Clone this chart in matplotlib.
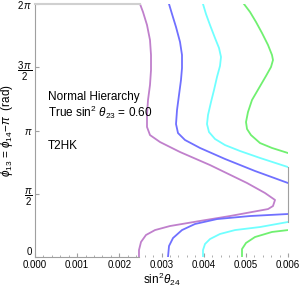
import numpy as np
import matplotlib
matplotlib.use("Agg")
import matplotlib.pyplot as plt
from matplotlib.ticker import MultipleLocator, FormatStrFormatter

plt.rcParams['font.family'] = ['Liberation Sans', 'DejaVu Sans']
plt.rcParams['mathtext.fontset'] = 'custom'
plt.rcParams['mathtext.rm'] = 'Liberation Sans'
plt.rcParams['mathtext.it'] = 'Liberation Sans:italic'

# contour curves: x = sin^2 theta24, y = phi13 in units of pi
purple_x = [0.002490, 0.002561, 0.002656, 0.002727, 0.002751, 0.002751, 0.002727, 0.002680, 0.002656,
            0.002656, 0.002727, 0.002964, 0.003439, 0.004150, 0.005028, 0.005454, 0.005692, 0.005644,
            0.005526, 0.004624, 0.003913, 0.003202, 0.002846, 0.002632, 0.002514, 0.002466, 0.002466]
purple_y = [2.0, 1.937, 1.834, 1.715, 1.597, 1.478, 1.360, 1.241, 1.123,
            1.028, 0.964, 0.909, 0.830, 0.727, 0.585, 0.506, 0.451, 0.403,
            0.379, 0.324, 0.285, 0.245, 0.213, 0.174, 0.119, 0.055, 0.0]

blue_up_x = [0.003178, 0.003249, 0.003344, 0.003439, 0.003486, 0.003486, 0.003462, 0.003415, 0.003368,
             0.003344, 0.003391, 0.003557, 0.003913, 0.004506, 0.005217, 0.006]
blue_up_y = [2.0, 1.921, 1.818, 1.700, 1.597, 1.494, 1.399, 1.281, 1.162,
             1.051, 0.980, 0.925, 0.862, 0.775, 0.680, 0.585]
blue_lo_x = [0.006, 0.005099, 0.004316, 0.003794, 0.003486, 0.003273, 0.003178, 0.003154]
blue_lo_y = [0.340, 0.324, 0.300, 0.261, 0.213, 0.150, 0.087, 0.0]

cyan_up_x = [0.003984, 0.004055, 0.004150, 0.004269, 0.004364, 0.004411, 0.004387, 0.004316, 0.004245,
             0.004174, 0.004103, 0.004079, 0.004126, 0.004269, 0.004506, 0.004862, 0.005336, 0.006]
cyan_up_y = [2.0, 1.921, 1.834, 1.731, 1.652, 1.581, 1.510, 1.423, 1.320,
             1.225, 1.123, 1.051, 0.988, 0.933, 0.885, 0.838, 0.783, 0.711]
cyan_lo_x = [0.006, 0.005336, 0.004743, 0.004387, 0.004150, 0.004032, 0.003984, 0.003984]
cyan_lo_y = [0.277, 0.237, 0.213, 0.182, 0.142, 0.103, 0.055, 0.0]

green_up_x = [0.004956, 0.005099, 0.005241, 0.005383, 0.005526, 0.005620, 0.005644, 0.005597, 0.005478,
              0.005312, 0.005146, 0.005051, 0.005004, 0.005028, 0.005122, 0.005336, 0.005620, 0.006]
green_up_y = [2.0, 1.937, 1.858, 1.771, 1.676, 1.597, 1.557, 1.502, 1.431,
              1.336, 1.241, 1.146, 1.067, 1.012, 0.964, 0.901, 0.862, 0.822]
green_lo_x = [0.006, 0.005620, 0.005217, 0.005004, 0.004909, 0.004909]
green_lo_y = [0.213, 0.198, 0.158, 0.111, 0.063, 0.0]

ytick_vals = [0, 0.5, 1, 1.5, 2]
ytick_labels = ['0', r'$\dfrac{\pi}{2}$', r'$\pi$', r'$\dfrac{3\,\pi}{2}$', r'$2\,\pi$']

fig = plt.figure(figsize=(3, 2.88), dpi=100)
ax = fig.add_axes([0.1167, 0.1076, 0.8433, 0.8785])

lw = 1.3
ax.plot(purple_x, np.array(purple_y) * np.pi, color='#c080cc', lw=lw)
ax.plot(blue_up_x, np.array(blue_up_y) * np.pi, color='#7070ff', lw=lw)
ax.plot(blue_lo_x, np.array(blue_lo_y) * np.pi, color='#7070ff', lw=lw)
ax.plot(cyan_up_x, np.array(cyan_up_y) * np.pi, color='#70ffff', lw=lw)
ax.plot(cyan_lo_x, np.array(cyan_lo_y) * np.pi, color='#70ffff', lw=lw)
ax.plot(green_up_x, np.array(green_up_y) * np.pi, color='#70f070', lw=lw)
ax.plot(green_lo_x, np.array(green_lo_y) * np.pi, color='#70f070', lw=lw)

ax.set_xlim(0, 0.006)
ax.set_ylim(0, 2 * np.pi)

# frame pieces that stay visible
ax.spines['left'].set_color('#a0a0a0')
ax.spines['bottom'].set_color('#a0a0a0')
ax.spines['bottom'].set_bounds(0, purple_x[-1])
ax.spines['top'].set_color('#d0d0d0')
ax.spines['top'].set_linewidth(1.5)
ax.spines['top'].set_bounds(0, purple_x[0])
ax.spines['right'].set_color('#a0a0a0')
ax.spines['right'].set_bounds(cyan_lo_y[0] * np.pi, cyan_up_y[-1] * np.pi)

ax.xaxis.set_major_locator(MultipleLocator(0.001))
ax.xaxis.set_minor_locator(MultipleLocator(0.0002))
ax.xaxis.set_major_formatter(FormatStrFormatter('%.3f'))
ax.set_yticks(np.array(ytick_vals) * np.pi)
ax.set_yticklabels(ytick_labels)
ax.tick_params(which='major', direction='in', length=3, color='#a0a0a0', labelsize=7, pad=2)
ax.tick_params(which='minor', direction='in', length=1.5, color='#a0a0a0')
ax.tick_params(axis='y', labelsize=7)
# the y "0" sits just above the x tick labels
ax.get_yticklabels()[0].set_va('bottom')

ax.set_xlabel(r'sin$^2\theta_{24}$', fontsize=8.5, labelpad=1)
ax.set_ylabel(r'$\phi_{13}$ = $\phi_{14}$$-\pi$  (rad)', fontsize=8.5, labelpad=1)

ax.text(0.00031, 1.265 * np.pi, 'Normal Hierarchy', fontsize=8.5, va='center')
ax.text(0.00031, 1.145 * np.pi, r'True sin$^2$ $\theta_{23}$ = 0.60', fontsize=8.5, va='center')
ax.text(0.00031, 0.875 * np.pi, 'T2HK', fontsize=8.5, va='center')

fig.savefig('out.png', dpi=100)
